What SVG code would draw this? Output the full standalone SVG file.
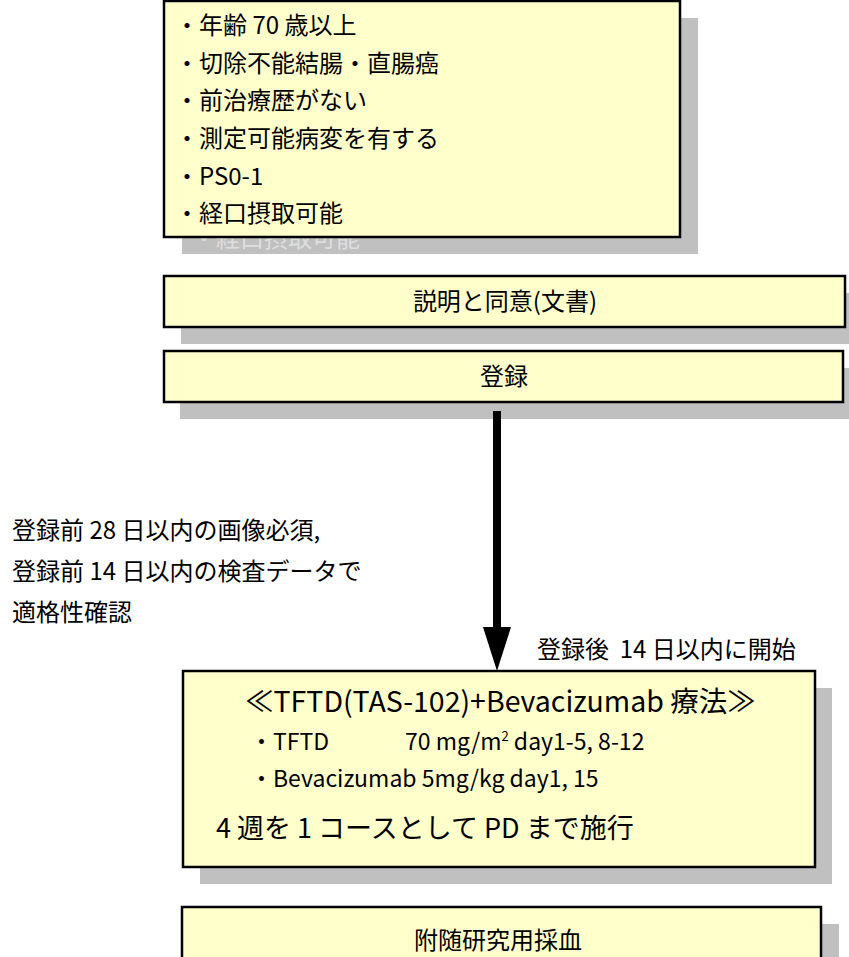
<svg xmlns="http://www.w3.org/2000/svg" width="849" height="957" viewBox="0 0 849 957">
<style>
.box{fill:#ffffcc;stroke:#000;stroke-width:2.5}
.sh{fill:#c0c0c0}
text{font-family:"Noto Sans CJK JP","Noto Sans CJK SC",sans-serif;fill:#000}
.t{font-size:24px}
.c{text-anchor:middle}
.ghost{fill:#dedede;font-size:24px}
</style>
<defs>
<marker id="ah" viewBox="0 0 10 10" refX="0" refY="5" markerWidth="5.5" markerHeight="3.5" markerUnits="strokeWidth" orient="auto" preserveAspectRatio="none"><path d="M0,0 L10,5 L0,10 Z" fill="#000"/></marker>
<clipPath id="ghostclip"><rect x="182" y="238" width="516" height="16"/></clipPath>
</defs>
<g id="criteria">
<rect class="sh" x="182" y="18" width="516" height="236"/>
<text class="ghost" x="192" y="247" clip-path="url(#ghostclip)">・経口摂取可能</text>
<rect class="box" x="164" y="1" width="516" height="236"/>
<text class="t" x="175" y="34">・年齢 70 歳以上</text>
<text class="t" x="175" y="72">・切除不能結腸・直腸癌</text>
<text class="t" x="175" y="109">・前治療歴がない</text>
<text class="t" x="175" y="147">・測定可能病変を有する</text>
<text class="t" x="175" y="185">・PS0-1</text>
<text class="t" x="175" y="222">・経口摂取可能</text>
</g>
<g id="consent">
<rect class="sh" x="181" y="293" width="681" height="51"/>
<rect class="box" x="164" y="276" width="681" height="51"/>
<text class="t c" x="505" y="310">説明と同意(文書)</text>
</g>
<g id="register">
<rect class="sh" x="180" y="368" width="680" height="51"/>
<rect class="box" x="164" y="351" width="679" height="51"/>
<text class="t c" x="504" y="385">登録</text>
</g>
<g id="notes">
<text class="t" x="12" y="539">登録前 28 日以内の画像必須,</text>
<text class="t" x="12" y="580">登録前 14 日以内の検査データで</text>
<text class="t" x="12" y="621">適格性確認</text>
<text class="t" x="537" y="658" xml:space="preserve">登録後  14 日以内に開始</text>
</g>
<g id="connectors">
<line x1="497" y1="411" x2="497" y2="627" stroke="#000" stroke-width="8" marker-end="url(#ah)"/>
</g>
<g id="therapy">
<rect class="sh" x="200" y="688" width="632" height="196"/>
<rect class="box" x="183" y="671" width="632" height="196"/>
<text x="245" y="712" font-size="28.5">≪TFTD(TAS-102)+Bevacizumab 療法≫</text>
<text x="250" y="750" font-size="23">・TFTD</text>
<text x="405" y="750" font-size="23">70 mg/m<tspan font-size="13" dy="-9">2</tspan><tspan dy="9"> day1-5, 8-12</tspan></text>
<text x="250" y="787" font-size="23">・Bevacizumab 5mg/kg day1, 15</text>
<text x="216" y="838" font-size="27">4 週を 1 コースとして PD まで施行</text>
</g>
<g id="blood">
<rect class="sh" x="199" y="924" width="640" height="60"/>
<rect class="box" x="182" y="907" width="639" height="60"/>
<text class="t c" x="498" y="949">附随研究用採血</text>
</g>
</svg>
